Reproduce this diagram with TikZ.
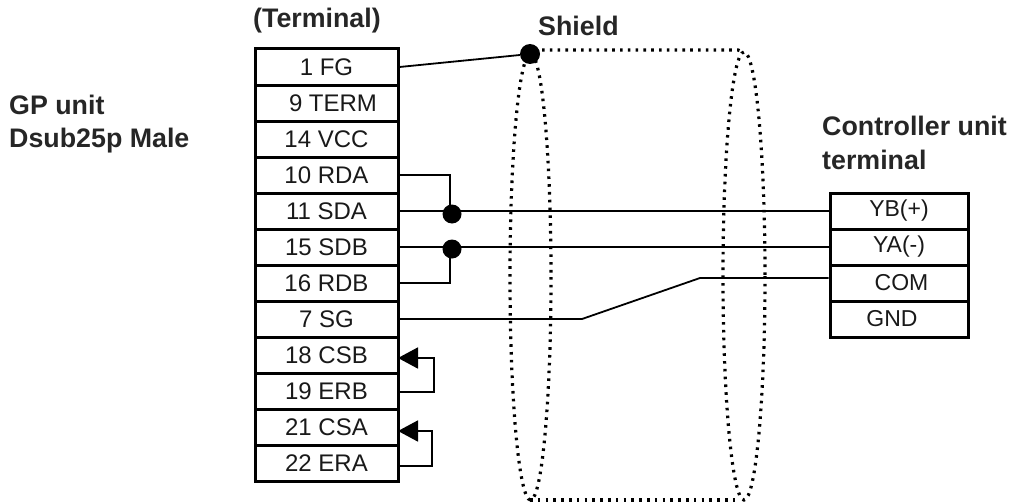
\documentclass[tikz,border=0pt]{standalone}
\usepackage{fontspec}
\setmainfont{Liberation Sans}
\usetikzlibrary{arrows.meta,calc}
\tikzset{
  rowbox/.style={draw=black,line width=3pt,minimum height=36pt,inner sep=0pt,font=\fontsize{24}{26}\selectfont,text=black!90},
  lrow/.style={rowbox,minimum width=143pt},
  rrow/.style={rowbox,minimum width=138pt,font=\fontsize{23}{26}\selectfont},
  heading/.style={anchor=west,align=left,inner sep=0pt,font=\fontsize{26.8}{33.5}\selectfont\bfseries,text=black!85},
  wire/.style={draw=black,line width=1.8pt},
  junction/.style={circle,fill=black,inner sep=0pt,minimum size=19pt},
  shield/.style={draw=black,line width=3.2pt,dash pattern=on 2.6pt off 5.2pt},
  loopback/.style={wire,-{Triangle[length=20pt,width=21pt]}}
}
\begin{document}
\begin{tikzpicture}[x=1pt,y=-1pt]
\useasboundingbox (0,0) rectangle (1011,503);
\foreach \nm/\txt/\yy in {fg/{1 FG}/67,term/{\hspace*{13pt}9 TERM}/103,vcc/{14 VCC}/139,rda/{10 RDA}/175,sda/{11 SDA}/211,sdb/{15 SDB}/247,rdb/{16 RDB}/283,sg/{7 SG}/319,csb/{18 CSB}/355,erb/{19 ERB}/391,csa/{21 CSA}/427,era/{22 ERA}/463}
  \node[lrow] (\nm) at (326.5,\yy) {\txt};
\foreach \nm/\txt/\yy in {yb/{YB(+)}/211,ya/{YA(-)}/247,com/{\hspace*{5pt}COM}/283,gnd/{GND\hspace*{14pt}}/319}
  \node[rrow] (\nm) at (899,\yy) {\txt};
\node[heading] (term0) at (253,21) {(Terminal)};
\node[heading] (shieldlbl) at (538,26) {Shield};
\node[heading] (gp) at (9,124) {GP unit\\Dsub25p Male};
\node[heading] (ctrl) at (822,143) {Controller unit\\terminal};
% shield
\coordinate (tl) at (542,50);
\coordinate (tr) at (738,50);
\coordinate (bl) at (530,500);
\coordinate (br) at (737,500);
\draw[shield] (530.5,277) ellipse [x radius=20.5,y radius=223];
\draw[shield] (744,276) ellipse [x radius=21,y radius=224];
\node[junction,minimum size=20pt] (sdot) at (530,54) {};
\draw[shield] (tl) -- (tr) -- (743,52);
\draw[shield] (bl) -- (br);
% wires
\draw[wire] (fg.east) -- (sdot);
\draw[wire] (sda.east) -- (yb.west);
\draw[wire] (sdb.east) -- (ya.west);
\node[junction] (j1) at (452,214) {};
\node[junction] (j2) at (452,249) {};
\draw[wire] (rda.east) -| (450,214);
\draw[wire] (rdb.east) -| (450,249);
\coordinate (bend) at (582,319);
\coordinate (jog) at (700,278);
\draw[wire] (sg.east) -- (bend) -- (jog) -- (jog -| com.west);
\coordinate (l1a) at (398,358);
\coordinate (l1b) at (398,392);
\coordinate (l2a) at (398,431);
\coordinate (l2b) at (398,466);
\draw[loopback] (l1b) -- (434,392) -- (434,358) -- (l1a);
\draw[loopback] (l2b) -- (432,466) -- (432,431) -- (l2a);
\end{tikzpicture}
\end{document}
